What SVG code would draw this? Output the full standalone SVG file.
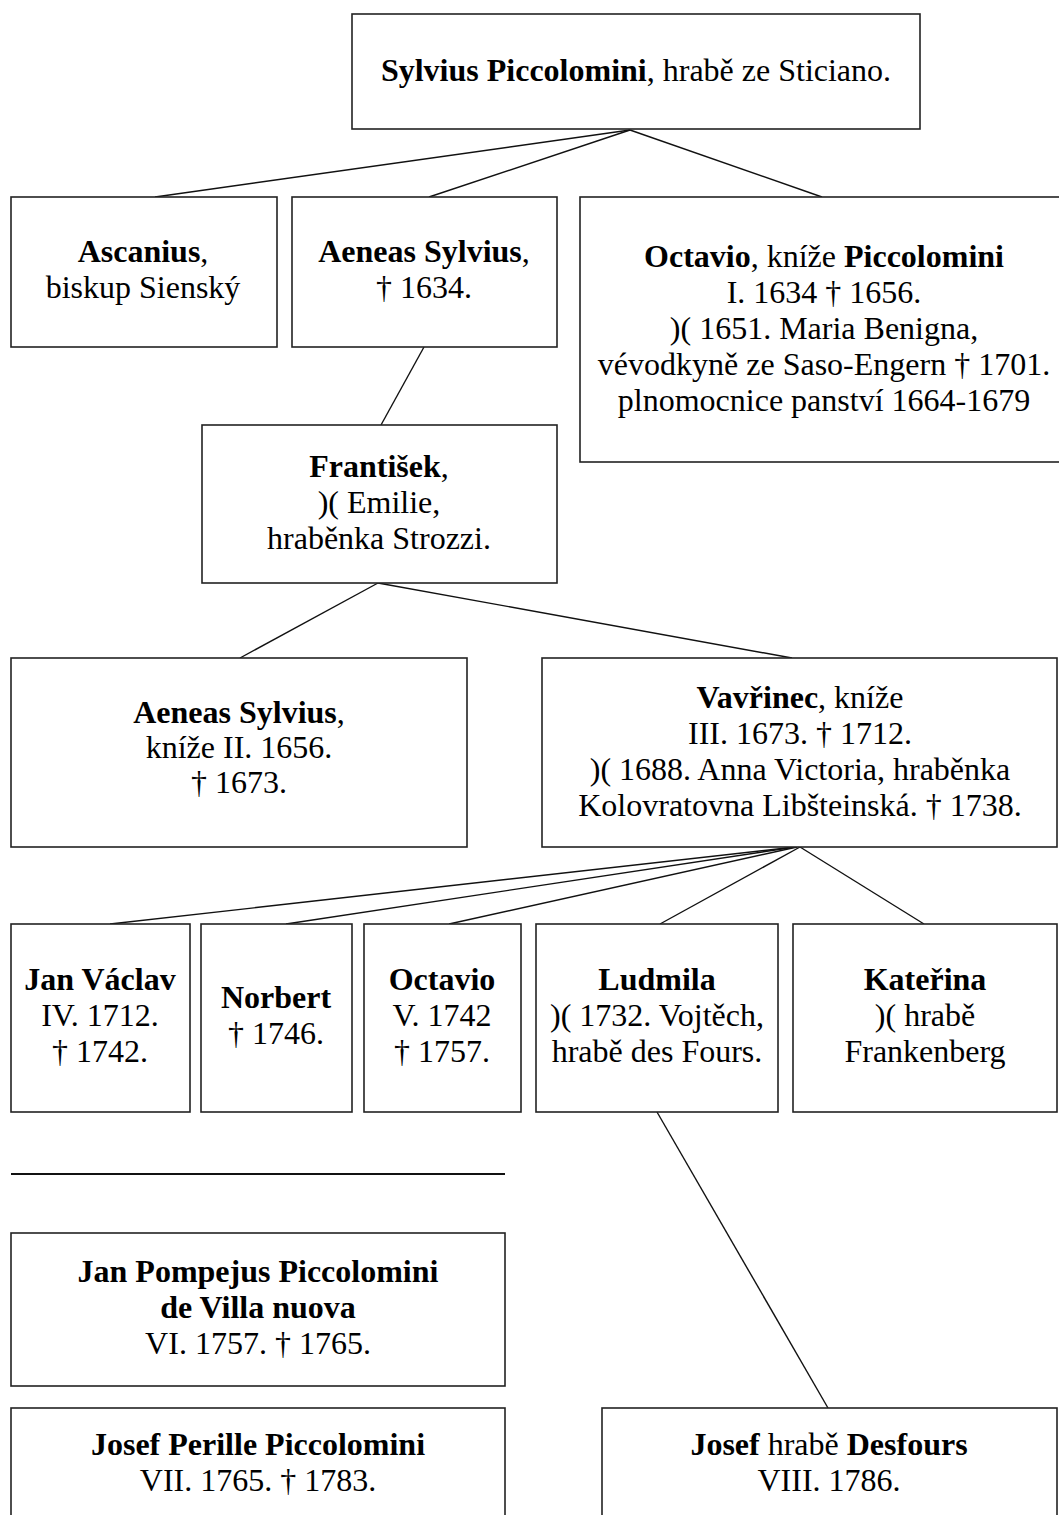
<svg xmlns="http://www.w3.org/2000/svg" width="1059" height="1515" viewBox="0 0 1059 1515">
<style>
rect{fill:#fff;stroke:#222;stroke-width:1.6}
.c line{stroke:#111;stroke-width:1.4}
text{font-family:"Liberation Serif","Times New Roman",serif;font-size:32px;fill:#000;text-anchor:middle}
.b{font-weight:bold}
</style>
<rect x="0" y="0" width="1059" height="1515" style="stroke:none"/>
<g class="c" id="connectors">
<line x1="630" y1="130" x2="155" y2="197"/>
<line x1="630" y1="130" x2="429" y2="197"/>
<line x1="630" y1="130" x2="822" y2="197"/>
<line x1="424" y1="347" x2="381" y2="425"/>
<line x1="378" y1="583" x2="240" y2="658"/>
<line x1="378" y1="583" x2="792" y2="658"/>
<line x1="795" y1="847" x2="110" y2="924"/>
<line x1="795" y1="847" x2="286" y2="924"/>
<line x1="797" y1="847" x2="449" y2="924"/>
<line x1="800" y1="847" x2="660" y2="924"/>
<line x1="800" y1="847" x2="924" y2="924"/>
<line x1="657" y1="1112" x2="828" y2="1408"/>
<line x1="11" y1="1174" x2="505" y2="1174" style="stroke-width:1.8"/>
</g>
<g id="sylvius">
<rect x="352" y="14" width="568" height="115"/>
<text x="636" y="81"><tspan class="b">Sylvius Piccolomini</tspan>, hrabě ze Sticiano.</text>
</g>
<g id="ascanius">
<rect x="11" y="197" width="266" height="150"/>
<text x="143" y="262"><tspan class="b">Ascanius</tspan>,</text>
<text x="143" y="298">biskup Sienský</text>
</g>
<g id="aeneas1">
<rect x="292" y="197" width="265" height="150"/>
<text x="424" y="262"><tspan class="b">Aeneas Sylvius</tspan>,</text>
<text x="424" y="298">† 1634.</text>
</g>
<g id="octavio1">
<rect x="580" y="197" width="490" height="265"/>
<text x="824" y="267"><tspan class="b">Octavio</tspan>, kníže <tspan class="b">Piccolomini</tspan></text>
<text x="824" y="303">I. 1634 † 1656.</text>
<text x="824" y="339">)( 1651. Maria Benigna,</text>
<text x="824" y="375">vévodkyně ze Saso-Engern † 1701.</text>
<text x="824" y="411">plnomocnice panství 1664-1679</text>
</g>
<g id="frantisek">
<rect x="202" y="425" width="355" height="158"/>
<text x="379" y="477"><tspan class="b">František</tspan>,</text>
<text x="379" y="513">)( Emilie,</text>
<text x="379" y="549">hraběnka Strozzi.</text>
</g>
<g id="aeneas2">
<rect x="11" y="658" width="456" height="189"/>
<text x="239" y="723"><tspan class="b">Aeneas Sylvius</tspan>,</text>
<text x="239" y="758">kníže II. 1656.</text>
<text x="239" y="793">† 1673.</text>
</g>
<g id="vavrinec">
<rect x="542" y="658" width="515" height="189"/>
<text x="800" y="708"><tspan class="b">Vavřinec</tspan>, kníže</text>
<text x="800" y="744">III. 1673. † 1712.</text>
<text x="800" y="780">)( 1688. Anna Victoria, hraběnka</text>
<text x="800" y="816">Kolovratovna Libšteinská. † 1738.</text>
</g>
<g id="janvaclav">
<rect x="11" y="924" width="179" height="188"/>
<text x="100" y="990" class="b">Jan Václav</text>
<text x="100" y="1026">IV. 1712.</text>
<text x="100" y="1062">† 1742.</text>
</g>
<g id="norbert">
<rect x="201" y="924" width="151" height="188"/>
<text x="276" y="1008" class="b">Norbert</text>
<text x="276" y="1044">† 1746.</text>
</g>
<g id="octavio2">
<rect x="364" y="924" width="157" height="188"/>
<text x="442" y="990" class="b">Octavio</text>
<text x="442" y="1026">V. 1742</text>
<text x="442" y="1062">† 1757.</text>
</g>
<g id="ludmila">
<rect x="536" y="924" width="242" height="188"/>
<text x="657" y="990" class="b">Ludmila</text>
<text x="657" y="1026">)( 1732. Vojtěch,</text>
<text x="657" y="1062">hrabě des Fours.</text>
</g>
<g id="katerina">
<rect x="793" y="924" width="264" height="188"/>
<text x="925" y="990" class="b">Kateřina</text>
<text x="925" y="1026">)( hrabě</text>
<text x="925" y="1062">Frankenberg</text>
</g>
<g id="janpompejus">
<rect x="11" y="1233" width="494" height="153"/>
<text x="258" y="1282" class="b">Jan Pompejus Piccolomini</text>
<text x="258" y="1318" class="b">de Villa nuova</text>
<text x="258" y="1354">VI. 1757. † 1765.</text>
</g>
<g id="josefperille">
<rect x="11" y="1408" width="494" height="130"/>
<text x="258" y="1455" class="b">Josef Perille Piccolomini</text>
<text x="258" y="1491">VII. 1765. † 1783.</text>
</g>
<g id="josefdesfours">
<rect x="602" y="1408" width="455" height="130"/>
<text x="829" y="1455"><tspan class="b">Josef</tspan> hrabě <tspan class="b">Desfours</tspan></text>
<text x="829" y="1491">VIII. 1786.</text>
</g>
</svg>
